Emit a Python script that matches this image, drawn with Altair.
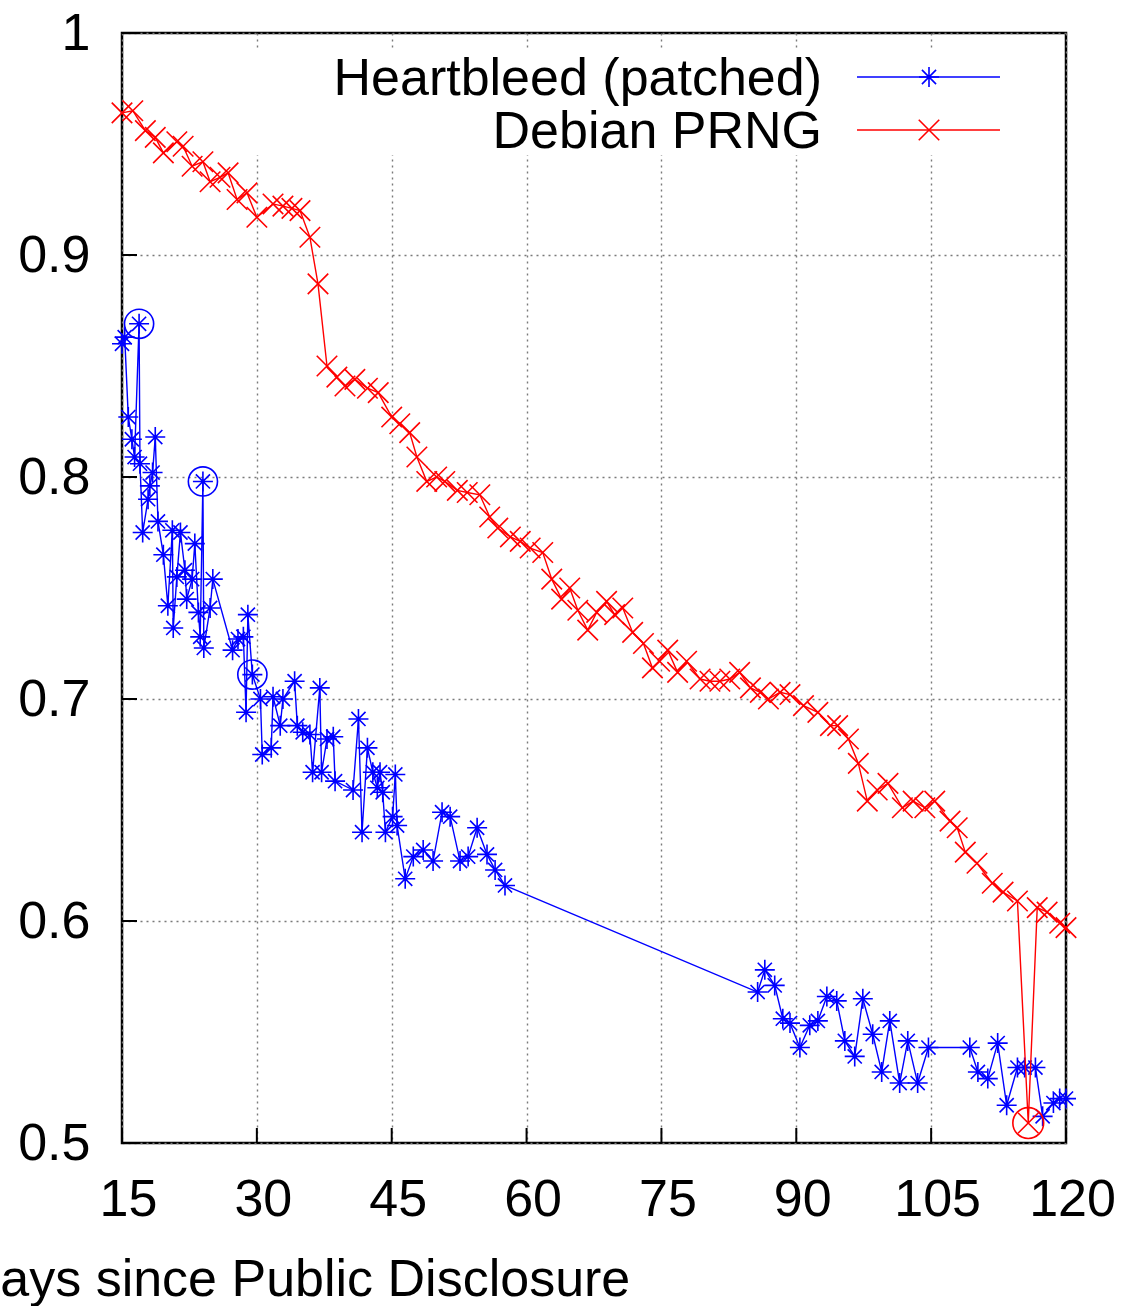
import altair as alt
import pandas as pd

# ---------------- data ----------------
x_ticks = [15, 30, 45, 60, 75, 90, 105, 120]
y_ticks = [0.5, 0.6, 0.7, 0.8, 0.9, 1.0]

series_names = ["Heartbleed (patched)", "Debian PRNG"]
series_colors = ["#0000ff", "#ff0000"]

heart_days = [15.0, 15.3, 15.7, 16.1, 16.4, 16.9, 17.0, 17.3, 17.9, 18.1, 18.4, 18.7,
              19.0, 19.6, 20.1, 20.6, 20.7, 21.1, 21.5, 22.0, 22.2, 22.8, 23.1, 23.5,
              23.7, 24.0, 24.1, 24.8, 25.1, 27.3, 27.9, 28.5, 28.8, 29.0, 29.5, 30.4,
              30.6, 31.6, 31.8, 32.6, 32.9, 34.2, 34.5, 35.1, 35.9, 36.2, 37.0, 37.2,
              37.8, 38.5, 38.7, 40.7, 41.3, 41.7, 42.3, 42.9, 43.4, 43.7, 44.0, 44.3,
              45.1, 45.4, 45.6, 46.5, 47.4, 48.5, 49.6, 50.6, 51.5, 52.6, 53.5, 54.5,
              55.6, 56.5, 57.6, 85.7, 86.5, 87.6, 88.5, 89.3, 90.4, 91.5, 92.4, 93.4,
              94.5, 95.4, 96.5, 97.4, 98.5, 99.5, 100.4, 101.5, 102.4, 103.5, 104.7,
              109.3, 110.2, 111.3, 112.4, 113.4, 114.6, 115.4, 116.6, 117.4, 118.6,
              119.3, 120.0]
heart_vals = [0.860, 0.863, 0.827, 0.817, 0.809, 0.869, 0.806, 0.775, 0.790, 0.796, 0.802, 0.818,
              0.780, 0.765, 0.742, 0.776, 0.732, 0.755, 0.775, 0.758, 0.745, 0.754, 0.770, 0.739,
              0.728, 0.798, 0.723, 0.741, 0.754, 0.722, 0.727, 0.728, 0.694, 0.738, 0.711, 0.700,
              0.675, 0.678, 0.701, 0.688, 0.700, 0.708, 0.688, 0.685, 0.684, 0.667, 0.705, 0.667,
              0.682, 0.683, 0.663, 0.659, 0.691, 0.640, 0.678, 0.667, 0.660, 0.667, 0.658, 0.640,
              0.647, 0.666, 0.643, 0.619, 0.629, 0.632, 0.627, 0.649, 0.647, 0.627, 0.629, 0.642,
              0.630, 0.623, 0.616, 0.568, 0.578, 0.571, 0.556, 0.554, 0.543, 0.553, 0.555, 0.566,
              0.564, 0.546, 0.539, 0.565, 0.549, 0.532, 0.555, 0.527, 0.546, 0.527, 0.543,
              0.543, 0.532, 0.529, 0.545, 0.517, 0.534, 0.534, 0.534, 0.512, 0.518,
              0.520, 0.520]

debian_days = [15.0, 16.2, 17.6, 18.7, 19.6, 21.1, 21.8, 22.8, 24.0, 24.8, 25.9, 26.8,
               27.8, 28.9, 30.0, 31.8, 32.9, 33.9, 34.8, 35.9, 36.8, 37.8, 38.9, 39.8,
               40.9, 42.3, 43.5, 45.0, 45.9, 47.0, 47.8, 48.9, 50.0, 50.9, 52.3, 53.4,
               54.8, 55.9, 56.8, 58.2, 59.3, 60.4, 61.8, 62.8, 63.9, 64.8, 65.7, 66.8,
               67.8, 68.9, 69.8, 70.7, 71.8, 73.0, 74.0, 74.8, 75.7, 76.8, 77.8, 79.3,
               80.4, 81.5, 82.6, 83.7, 84.9, 86.0, 86.9, 88.2, 89.3, 90.8, 92.4, 93.8,
               94.6, 95.8, 96.9, 97.9, 99.0, 100.2, 101.8, 103.0, 104.3, 105.4, 107.1,
               107.9, 108.8, 110.1, 111.8, 113.0, 114.6, 115.8, 116.8, 117.9, 119.3, 120.0]
debian_vals = [0.964, 0.965, 0.956, 0.953, 0.946, 0.951, 0.949, 0.940, 0.942, 0.933, 0.935, 0.937,
               0.925, 0.928, 0.917, 0.923, 0.922, 0.921, 0.920, 0.908, 0.887, 0.850, 0.845, 0.841,
               0.844, 0.840, 0.838, 0.827, 0.824, 0.820, 0.809, 0.798, 0.800, 0.798, 0.794, 0.793,
               0.792, 0.782, 0.777, 0.773, 0.771, 0.768, 0.766, 0.754, 0.745, 0.750, 0.740, 0.731,
               0.739, 0.744, 0.738, 0.741, 0.730, 0.725, 0.714, 0.717, 0.722, 0.712, 0.717, 0.709,
               0.708, 0.708, 0.709, 0.712, 0.705, 0.703, 0.700, 0.703, 0.702, 0.697, 0.694, 0.688,
               0.688, 0.682, 0.671, 0.654, 0.659, 0.662, 0.651, 0.654, 0.651, 0.654, 0.645,
               0.642, 0.631, 0.626, 0.617, 0.613, 0.609, 0.509, 0.606, 0.604, 0.599, 0.597]

heart_circle_days = [16.9, 24.0, 29.5]
heart_circle_vals = [0.869, 0.798, 0.711]
debian_circle_days = [115.8]
debian_circle_vals = [0.509]

# ---------------- styling ----------------
FONT = "Liberation Sans"
FS = 52
STAR = "M-1,0L1,0M0,-1L0,1M-0.7071,-0.7071L0.7071,0.7071M-0.7071,0.7071L0.7071,-0.7071"
XMARK = "M-1,-1L1,1M-1,1L1,-1"
W, H = 944, 1110

heart = pd.DataFrame({"day": heart_days, "val": heart_vals})
debian = pd.DataFrame({"day": debian_days, "val": debian_vals})
heart_c = pd.DataFrame({"day": heart_circle_days, "val": heart_circle_vals})
debian_c = pd.DataFrame({"day": debian_circle_days, "val": debian_circle_vals})
xt = pd.DataFrame({"day": x_ticks})
yt = pd.DataFrame({"val": y_ticks})

xscale = alt.Scale(domain=[15, 120], nice=False, zero=False)
yscale = alt.Scale(domain=[0.5, 1.0], nice=False, zero=False)

grid_kw = dict(grid=True, gridColor="#7a7a7a", gridDash=[2, 4], gridWidth=1.4,
               domain=False, ticks=False, tickSize=0, labelFont=FONT, labelFontSize=FS,
               labelColor="black", labelFlush=False, labelOverlap=False)

xaxis = alt.Axis(values=x_ticks, labelPadding=31, labelOffset=6,
                 title="Days since Public Disclosure", titleFont=FONT, titleFontSize=FS,
                 titleFontWeight="normal", titleColor="black", titleX=174, titleY=152,
                 titleAlign="center", titleBaseline="alphabetic", **grid_kw)
yaxis = alt.Axis(values=y_ticks, format=".1~f", labelPadding=32, title=None, **grid_kw)

X = alt.X("day:Q", scale=xscale, axis=xaxis, title="Days since Public Disclosure")
Y = alt.Y("val:Q", scale=yscale, axis=yaxis, title=None)

heart_line = alt.Chart(heart).mark_line(color=series_colors[0], strokeWidth=1.4).encode(x=X, y=Y)
heart_pts = alt.Chart(heart).mark_point(shape=STAR, size=400, color=series_colors[0],
                                        strokeWidth=1.6, opacity=1, filled=False).encode(x=X, y=Y)
heart_circ = alt.Chart(heart_c).mark_point(shape="circle", size=850, color=series_colors[0],
                                           strokeWidth=1.6, opacity=1, filled=False).encode(x=X, y=Y)

deb_line = alt.Chart(debian).mark_line(color=series_colors[1], strokeWidth=1.4).encode(x=X, y=Y)
deb_pts = alt.Chart(debian).mark_point(shape=XMARK, size=420, color=series_colors[1],
                                       strokeWidth=1.6, opacity=1, filled=False).encode(x=X, y=Y)
deb_circ = alt.Chart(debian_c).mark_point(shape="circle", size=950, color=series_colors[1],
                                          strokeWidth=1.6, opacity=1, filled=False).encode(x=X, y=Y)

# inward ticks (gnuplot style)
left_ticks = alt.Chart(yt).mark_rule(color="black", strokeWidth=2).encode(
    y=Y, x=alt.value(0), x2=alt.value(15))
bottom_ticks = alt.Chart(xt).mark_rule(color="black", strokeWidth=2).encode(
    x=X, y=alt.value(H), y2=alt.value(H - 15))

# key box (opaque, hides grid behind it)
one = pd.DataFrame({"k": [0]})
key_box = alt.Chart(one).mark_rect(color="white").encode(
    x=alt.value(128), x2=alt.value(888), y=alt.value(15), y2=alt.value(122))

key_layers = []
rows = [(series_names[0], series_colors[0], STAR, 400, 44, 62),
        (series_names[1], series_colors[1], XMARK, 420, 97, 115)]
for name, col, shp, sz, ly, ty in rows:
    d = pd.DataFrame({"label": [name]})
    key_layers.append(alt.Chart(d).mark_text(align="right", baseline="alphabetic", font=FONT,
                                             fontSize=FS, color="black").encode(
        text="label:N", x=alt.value(700), y=alt.value(ty)))
    key_layers.append(alt.Chart(d).mark_rule(color=col, strokeWidth=1.4).encode(
        x=alt.value(735), x2=alt.value(878), y=alt.value(ly)))
    key_layers.append(alt.Chart(d).mark_point(shape=shp, size=sz, color=col, strokeWidth=1.6,
                                              opacity=1, filled=False).encode(
        x=alt.value(807), y=alt.value(ly)))

chart = alt.layer(
    heart_line, heart_pts, heart_circ, deb_line, deb_pts, deb_circ,
    left_ticks, bottom_ticks, key_box, *key_layers
).properties(
    width=W, height=H,
    autosize=alt.AutoSizeParams(type="none"),
    padding={"left": 122, "top": 33, "right": 56, "bottom": 163},
    background="white",
).configure_view(stroke="black", strokeWidth=2.5)

chart.save("out.html", embed_options={"renderer": "svg", "actions": False})
